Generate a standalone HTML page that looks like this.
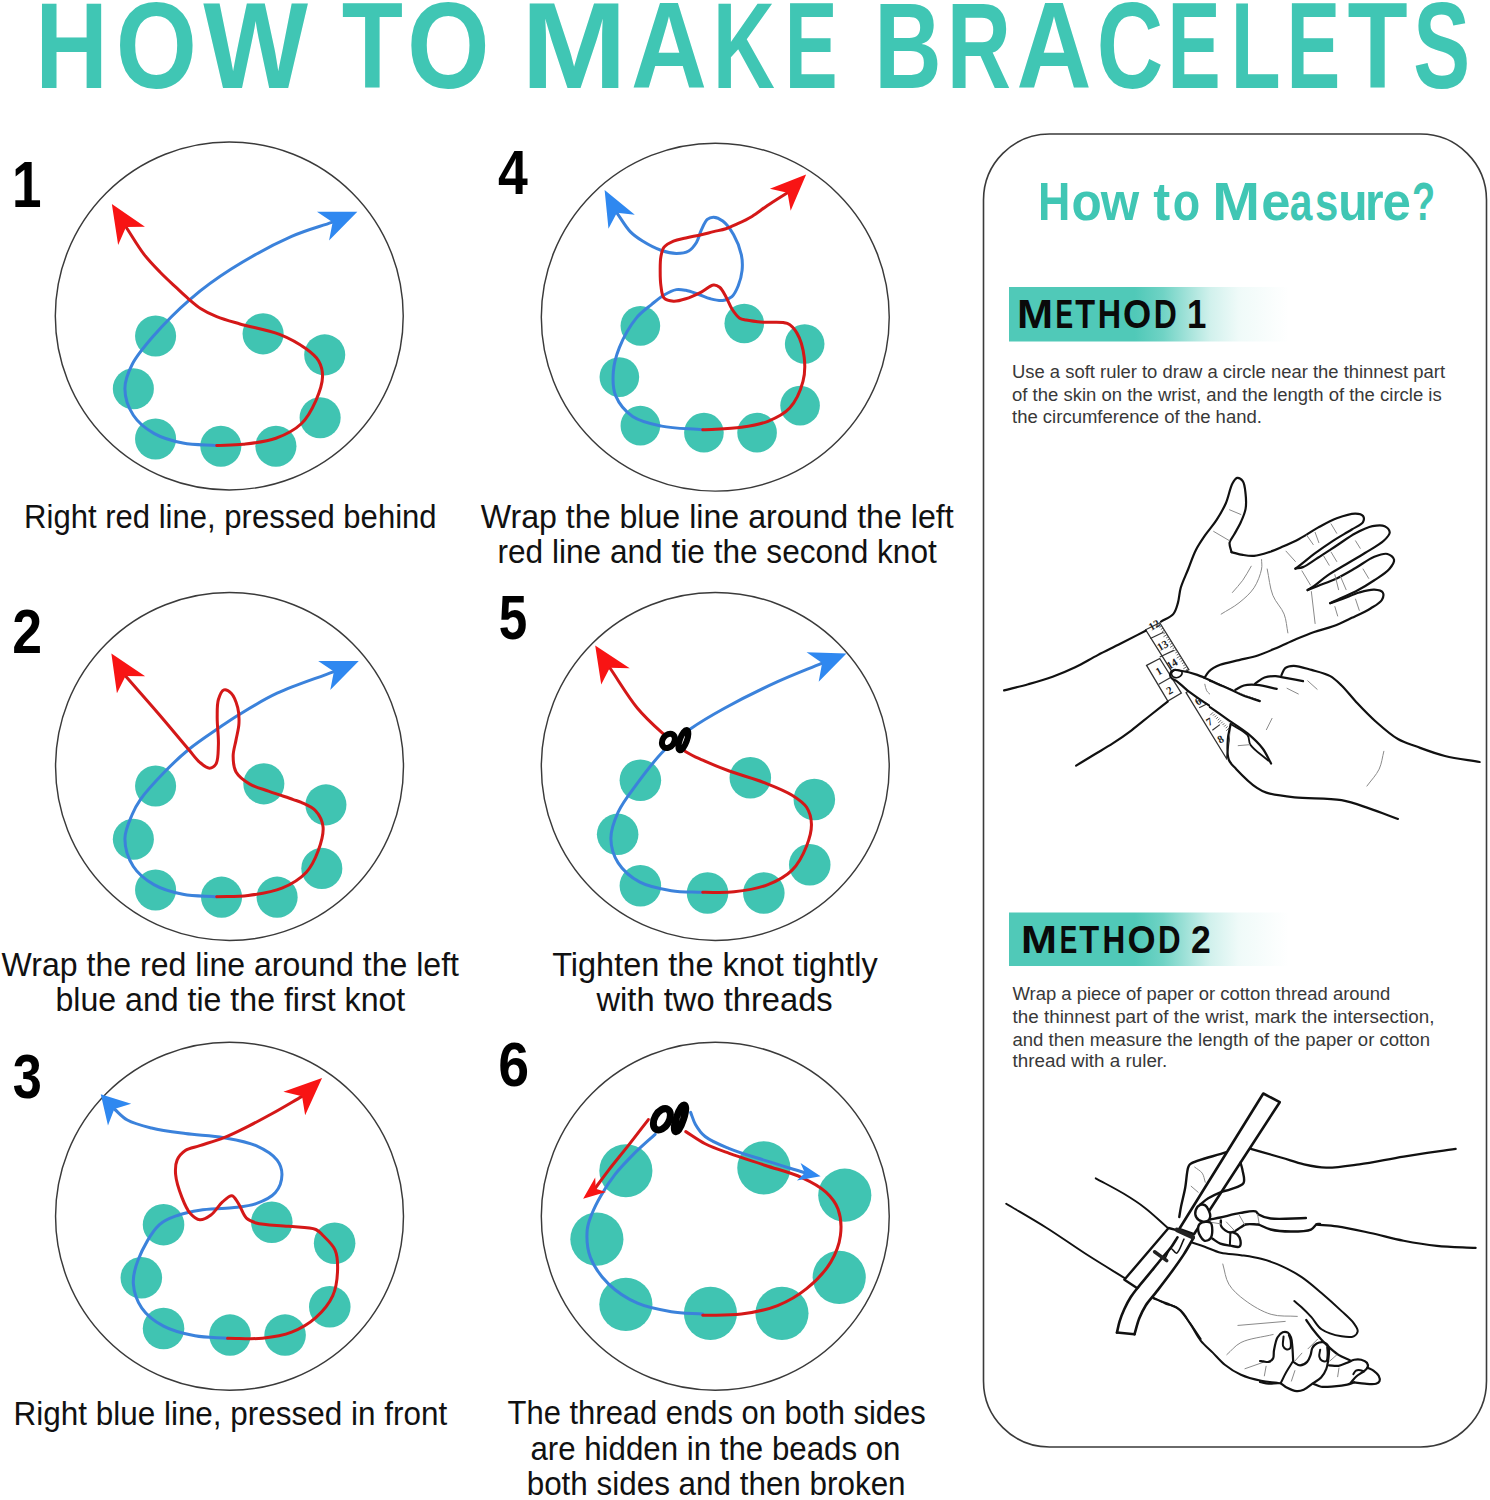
<!DOCTYPE html>
<html><head><meta charset="utf-8"><title>How to make bracelets</title>
<style>
html,body{margin:0;padding:0;background:#fff;}
body{width:1490px;height:1500px;overflow:hidden;}
svg{display:block;font-family:"Liberation Sans",sans-serif;}
</style></head><body>
<svg width="1490" height="1500" viewBox="0 0 1490 1500">
<defs>
<linearGradient id="g1" x1="1009" y1="0" x2="1289" y2="0" gradientUnits="userSpaceOnUse"><stop offset="0" stop-color="#50c9b8"/><stop offset="0.45" stop-color="#50c9b8"/><stop offset="0.55" stop-color="#50c9b8" stop-opacity="0.82"/><stop offset="0.64" stop-color="#50c9b8" stop-opacity="0.52"/><stop offset="0.72" stop-color="#50c9b8" stop-opacity="0.26"/><stop offset="0.82" stop-color="#50c9b8" stop-opacity="0.09"/><stop offset="1" stop-color="#50c9b8" stop-opacity="0"/></linearGradient>
<linearGradient id="g2" x1="1009" y1="0" x2="1289" y2="0" gradientUnits="userSpaceOnUse"><stop offset="0" stop-color="#50c9b8"/><stop offset="0.45" stop-color="#50c9b8"/><stop offset="0.55" stop-color="#50c9b8" stop-opacity="0.82"/><stop offset="0.64" stop-color="#50c9b8" stop-opacity="0.52"/><stop offset="0.72" stop-color="#50c9b8" stop-opacity="0.26"/><stop offset="0.82" stop-color="#50c9b8" stop-opacity="0.09"/><stop offset="1" stop-color="#50c9b8" stop-opacity="0"/></linearGradient>
</defs>
<text transform="translate(35.36,87.90) scale(1.0070,1.2210)" font-size="100" font-weight="bold" fill="#40c6b4">H</text>
<text transform="translate(115.82,87.90) scale(1.0434,1.2210)" font-size="100" font-weight="bold" fill="#40c6b4">O</text>
<text transform="translate(203.29,87.90) scale(1.1105,1.2210)" font-size="100" font-weight="bold" fill="#40c6b4">W</text>
<text transform="translate(341.87,87.90) scale(1.0019,1.2210)" font-size="100" font-weight="bold" fill="#40c6b4">T</text>
<text transform="translate(407.04,87.90) scale(1.0621,1.2210)" font-size="100" font-weight="bold" fill="#40c6b4">O</text>
<text transform="translate(521.22,87.90) scale(1.2671,1.2210)" font-size="100" font-weight="bold" fill="#40c6b4">M</text>
<text transform="translate(630.98,87.90) scale(1.0523,1.2210)" font-size="100" font-weight="bold" fill="#40c6b4">A</text>
<text transform="translate(712.64,87.90) scale(0.8607,1.2210)" font-size="100" font-weight="bold" fill="#40c6b4">K</text>
<text transform="translate(784.71,87.90) scale(0.7914,1.2210)" font-size="100" font-weight="bold" fill="#40c6b4">E</text>
<text transform="translate(874.16,87.90) scale(0.9330,1.2210)" font-size="100" font-weight="bold" fill="#40c6b4">B</text>
<text transform="translate(946.85,87.90) scale(0.8901,1.2210)" font-size="100" font-weight="bold" fill="#40c6b4">R</text>
<text transform="translate(1016.41,87.90) scale(1.0389,1.2210)" font-size="100" font-weight="bold" fill="#40c6b4">A</text>
<text transform="translate(1096.72,87.90) scale(0.9208,1.2210)" font-size="100" font-weight="bold" fill="#40c6b4">C</text>
<text transform="translate(1167.57,87.90) scale(0.7967,1.2210)" font-size="100" font-weight="bold" fill="#40c6b4">E</text>
<text transform="translate(1230.74,87.90) scale(0.8165,1.2210)" font-size="100" font-weight="bold" fill="#40c6b4">L</text>
<text transform="translate(1286.61,87.90) scale(0.8057,1.2210)" font-size="100" font-weight="bold" fill="#40c6b4">E</text>
<text transform="translate(1347.49,87.90) scale(0.9849,1.2210)" font-size="100" font-weight="bold" fill="#40c6b4">T</text>
<text transform="translate(1413.14,87.90) scale(0.8529,1.2210)" font-size="100" font-weight="bold" fill="#40c6b4">S</text>
<text transform="translate(12.06,207.20) scale(0.5308,0.6395)" font-size="100" font-weight="bold" fill="#000">1</text>
<text transform="translate(497.99,194.20) scale(0.5358,0.6236)" font-size="100" font-weight="bold" fill="#000">4</text>
<text transform="translate(12.34,653.40) scale(0.5359,0.6316)" font-size="100" font-weight="bold" fill="#000">2</text>
<text transform="translate(498.82,639.28) scale(0.5125,0.6306)" font-size="100" font-weight="bold" fill="#000">5</text>
<text transform="translate(12.80,1097.80) scale(0.5231,0.6244)" font-size="100" font-weight="bold" fill="#000">3</text>
<text transform="translate(498.37,1085.78) scale(0.5544,0.6299)" font-size="100" font-weight="bold" fill="#000">6</text>
<text x="24.1" y="528.0" font-size="32.5" font-weight="normal" fill="#111" textLength="412.5" lengthAdjust="spacingAndGlyphs">Right red line, pressed behind</text>
<text x="480.7" y="527.6" font-size="32.5" font-weight="normal" fill="#111" textLength="473.0" lengthAdjust="spacingAndGlyphs">Wrap the blue line around the left</text>
<text x="497.5" y="563.2" font-size="32.5" font-weight="normal" fill="#111" textLength="439.3" lengthAdjust="spacingAndGlyphs">red line and tie the second knot</text>
<text x="1.6" y="976.0" font-size="32.5" font-weight="normal" fill="#111" textLength="457.4" lengthAdjust="spacingAndGlyphs">Wrap the red line around the left</text>
<text x="55.4" y="1010.9" font-size="32.5" font-weight="normal" fill="#111" textLength="349.9" lengthAdjust="spacingAndGlyphs">blue and tie the first knot</text>
<text x="552.2" y="976.2" font-size="32.5" font-weight="normal" fill="#111" textLength="325.5" lengthAdjust="spacingAndGlyphs">Tighten the knot tightly</text>
<text x="596.5" y="1011.1" font-size="32.5" font-weight="normal" fill="#111" textLength="236.2" lengthAdjust="spacingAndGlyphs">with two threads</text>
<text x="13.5" y="1424.8" font-size="32.5" font-weight="normal" fill="#111" textLength="433.7" lengthAdjust="spacingAndGlyphs">Right blue line, pressed in front</text>
<text x="507.6" y="1424.2" font-size="32.5" font-weight="normal" fill="#111" textLength="418.1" lengthAdjust="spacingAndGlyphs">The thread ends on both sides</text>
<text x="530.4" y="1459.8" font-size="32.5" font-weight="normal" fill="#111" textLength="370.1" lengthAdjust="spacingAndGlyphs">are hidden in the beads on</text>
<text x="526.7" y="1494.7" font-size="32.5" font-weight="normal" fill="#111" textLength="378.9" lengthAdjust="spacingAndGlyphs">both sides and then broken</text>
<g transform="translate(50,135) scale(0.241611)">
<circle cx="742" cy="749" r="720" fill="none" stroke="#3a3a3a" stroke-width="6"/>
<circle cx="437" cy="832" r="85" fill="#40c4b2"/>
<circle cx="882" cy="823" r="85" fill="#40c4b2"/>
<circle cx="1137" cy="910" r="85" fill="#40c4b2"/>
<circle cx="345" cy="1050" r="85" fill="#40c4b2"/>
<circle cx="1118" cy="1170" r="85" fill="#40c4b2"/>
<circle cx="437" cy="1258" r="85" fill="#40c4b2"/>
<circle cx="707" cy="1288" r="85" fill="#40c4b2"/>
<circle cx="935" cy="1288" r="85" fill="#40c4b2"/>
<path d="M690.00 1285.00 C643.33 1281.67 594.34 1283.83 550.00 1275.00 C507.91 1266.62 464.83 1255.05 430.00 1235.00 C397.03 1216.02 364.99 1190.64 345.00 1160.00 C324.83 1129.08 310.30 1085.84 310.00 1050.00 C309.72 1015.92 323.16 983.35 340.00 950.00 C360.18 910.02 394.50 870.93 430.00 830.00 C472.22 781.32 526.59 725.88 580.00 680.00 C633.27 634.24 686.32 595.33 750.00 555.00 C823.89 508.20 923.46 453.74 1000.00 420.00 C1060.88 393.16 1113.17 380.56 1169.76 360.84" fill="none" stroke="#3b82db" stroke-width="12.5" stroke-linecap="round" stroke-linejoin="round"/>
<path d="M690.00 1285.00 C726.67 1283.33 761.62 1284.41 800.00 1280.00 C842.86 1275.08 893.98 1270.03 935.00 1255.00 C973.50 1240.90 1012.26 1221.54 1040.00 1195.00 C1066.74 1169.41 1085.25 1133.20 1100.00 1100.00 C1114.18 1068.08 1127.53 1029.81 1128.00 1000.00 C1128.38 976.06 1122.91 953.91 1112.00 935.00 C1100.68 915.37 1081.86 901.02 1060.00 885.00 C1031.19 863.88 991.44 841.45 950.00 825.00 C901.79 805.86 833.26 795.57 786.00 782.00 C749.60 771.55 718.70 763.67 690.00 752.00 C665.20 741.91 643.11 730.95 623.00 718.00 C604.44 706.04 589.43 692.10 573.00 678.00 C556.08 663.48 540.80 648.69 523.00 632.00 C502.21 612.51 477.85 590.45 456.00 568.00 C433.48 544.86 411.67 522.99 390.00 495.00 C364.44 461.98 339.79 418.79 314.68 380.68" fill="none" stroke="#d41818" stroke-width="12.5" stroke-linecap="round" stroke-linejoin="round"/>
<polygon points="256.0,286.0 393.0,380.0 314.7,380.7 282.0,455.0" fill="#f81414"/>
<polygon points="1272.0,318.0 1105.0,318.0 1169.8,360.8 1155.0,437.0" fill="#2f88f0"/>
</g>
<g transform="translate(536,135) scale(0.241611)">
<circle cx="742" cy="754" r="720" fill="none" stroke="#3a3a3a" stroke-width="6"/>
<circle cx="432" cy="790" r="82" fill="#40c4b2"/>
<circle cx="862" cy="780" r="82" fill="#40c4b2"/>
<circle cx="1112" cy="865" r="82" fill="#40c4b2"/>
<circle cx="345" cy="1002" r="82" fill="#40c4b2"/>
<circle cx="1093" cy="1120" r="82" fill="#40c4b2"/>
<circle cx="432" cy="1203" r="82" fill="#40c4b2"/>
<circle cx="695" cy="1232" r="82" fill="#40c4b2"/>
<circle cx="915" cy="1232" r="82" fill="#40c4b2"/>
<path d="M690.00 1220.00 C633.33 1215.00 571.18 1215.64 520.00 1205.00 C475.94 1195.84 432.24 1187.15 400.00 1165.00 C369.92 1144.34 343.18 1111.69 330.00 1080.00 C317.40 1049.73 317.59 1013.12 320.00 980.00 C322.44 946.45 331.30 914.02 345.00 880.00 C361.01 840.26 389.42 789.50 415.00 758.00 C434.97 733.41 458.57 717.87 479.00 701.00 C496.68 686.40 512.34 672.35 530.00 662.00 C546.43 652.37 564.82 642.70 581.00 640.00 C594.58 637.74 606.29 640.36 620.00 643.00 C636.03 646.09 654.08 653.20 671.00 659.00 C688.08 664.86 704.76 673.66 722.00 678.00 C738.77 682.22 757.50 687.04 773.00 685.00 C786.87 683.17 800.66 678.11 811.00 669.00 C822.60 658.77 830.18 640.85 837.00 624.00 C844.68 605.02 850.86 581.49 853.00 560.00 C855.11 538.82 854.70 518.32 850.00 496.00 C844.47 469.70 831.78 437.18 818.00 413.00 C805.55 391.15 789.03 368.20 773.00 356.00 C760.92 346.81 746.53 340.38 735.00 340.00 C725.58 339.69 716.58 342.64 709.00 349.00 C698.63 357.71 691.41 378.27 684.00 394.00 C676.35 410.23 673.15 430.31 664.00 445.00 C655.48 458.67 645.39 472.48 632.00 480.00 C617.98 487.87 598.96 490.06 581.00 490.00 C560.87 489.93 538.74 484.50 517.00 477.00 C492.20 468.45 463.24 452.89 441.00 439.00 C421.67 426.93 406.15 416.72 390.00 400.00 C370.32 379.63 353.17 348.21 334.76 322.32" fill="none" stroke="#3b82db" stroke-width="12.5" stroke-linecap="round" stroke-linejoin="round"/>
<path d="M690.00 1220.00 C743.33 1216.67 801.90 1216.92 850.00 1210.00 C890.35 1204.19 926.20 1198.74 960.00 1185.00 C992.68 1171.72 1026.26 1155.85 1050.00 1130.00 C1075.63 1102.09 1095.33 1056.81 1105.00 1020.00 C1113.72 986.78 1114.00 952.99 1110.00 920.00 C1105.91 886.31 1094.67 844.57 1080.00 820.00 C1069.20 801.92 1058.36 788.15 1040.00 780.00 C1015.57 769.16 970.32 777.70 940.00 775.00 C914.54 772.73 887.77 769.75 870.00 766.00 C858.78 763.63 851.58 763.62 843.00 758.00 C831.60 750.54 820.28 734.23 811.00 720.00 C801.08 704.79 794.97 684.59 786.00 669.00 C777.86 654.84 770.04 637.86 760.00 630.00 C752.44 624.08 744.58 620.18 735.00 621.00 C720.76 622.22 702.22 640.87 684.00 650.00 C664.12 659.97 640.46 671.60 620.00 678.00 C602.35 683.52 584.74 689.01 569.00 688.00 C555.00 687.10 538.70 684.35 530.00 675.00 C520.16 664.42 519.70 642.11 517.00 624.00 C514.02 604.02 513.94 580.71 514.00 560.00 C514.06 540.45 513.78 520.01 517.00 503.00 C519.73 488.57 521.83 474.50 530.00 464.00 C538.67 452.85 554.57 445.27 569.00 439.00 C584.38 432.32 601.98 430.12 620.00 426.00 C640.07 421.41 663.93 417.59 684.00 413.00 C702.02 408.88 717.98 404.17 735.00 400.00 C751.98 395.84 769.75 393.30 786.00 388.00 C801.69 382.88 814.88 376.48 831.00 369.00 C850.38 360.00 873.35 349.42 894.00 337.00 C915.72 323.94 935.11 307.37 958.00 292.00 C983.69 274.76 1013.31 256.59 1040.96 238.88" fill="none" stroke="#d41818" stroke-width="12.5" stroke-linecap="round" stroke-linejoin="round"/>
<polygon points="1118.0,164.0 968.0,222.0 1041.0,238.9 1054.0,314.0" fill="#f81414"/>
<polygon points="284.0,228.0 409.0,330.0 334.8,322.3 300.0,388.0" fill="#2f88f0"/>
</g>
<g transform="translate(50,585) scale(0.241611)">
<circle cx="743" cy="751" r="720" fill="none" stroke="#3a3a3a" stroke-width="6"/>
<circle cx="437" cy="832" r="85" fill="#40c4b2"/>
<circle cx="885" cy="823" r="85" fill="#40c4b2"/>
<circle cx="1142" cy="910" r="85" fill="#40c4b2"/>
<circle cx="345" cy="1052" r="85" fill="#40c4b2"/>
<circle cx="1125" cy="1173" r="85" fill="#40c4b2"/>
<circle cx="437" cy="1262" r="85" fill="#40c4b2"/>
<circle cx="710" cy="1292" r="85" fill="#40c4b2"/>
<circle cx="940" cy="1292" r="85" fill="#40c4b2"/>
<path d="M690.00 1290.00 C643.33 1286.67 594.34 1288.83 550.00 1280.00 C507.91 1271.62 464.83 1260.05 430.00 1240.00 C397.03 1221.02 364.96 1196.02 345.00 1165.00 C324.45 1133.05 310.07 1087.01 310.00 1050.00 C309.93 1015.51 327.93 978.82 340.00 950.00 C349.93 926.28 358.03 910.81 374.00 888.00 C397.39 854.60 439.75 809.26 474.00 774.00 C506.51 740.54 537.71 710.63 574.00 681.00 C612.65 649.45 662.55 616.77 700.00 591.00 C729.48 570.71 748.34 557.36 780.00 538.00 C823.79 511.23 880.41 475.96 940.00 448.00 C1009.77 415.27 1096.69 388.13 1175.04 358.20" fill="none" stroke="#3b82db" stroke-width="12.5" stroke-linecap="round" stroke-linejoin="round"/>
<path d="M690.00 1290.00 C733.33 1288.33 776.11 1290.51 820.00 1285.00 C866.05 1279.22 918.64 1272.18 960.00 1255.00 C997.75 1239.32 1034.65 1217.17 1060.00 1190.00 C1083.56 1164.75 1098.33 1131.75 1110.00 1100.00 C1121.62 1068.40 1133.45 1029.27 1130.00 1000.00 C1127.11 975.48 1115.19 951.72 1100.00 935.00 C1085.04 918.53 1057.35 908.14 1040.00 900.00 C1027.66 894.22 1021.01 892.93 1007.00 888.00 C982.71 879.45 938.39 865.22 907.00 854.00 C878.76 843.91 850.32 837.96 827.00 824.00 C805.03 810.85 781.40 794.13 770.00 774.00 C759.28 755.06 758.03 730.09 758.00 708.00 C757.97 685.75 766.00 663.33 770.00 641.00 C774.00 618.67 780.86 596.32 782.00 574.00 C783.12 551.99 782.35 529.03 777.00 508.00 C771.66 487.03 761.98 460.15 750.00 448.00 C741.50 439.38 728.39 431.35 720.00 434.00 C710.09 437.13 701.87 457.97 697.00 474.00 C690.83 494.33 692.32 520.72 692.00 548.00 C691.61 581.69 698.38 626.63 697.00 661.00 C695.84 690.02 697.07 725.17 687.00 741.00 C680.67 750.96 669.92 757.89 660.00 758.00 C648.01 758.13 632.96 744.88 620.00 734.00 C604.10 720.66 592.96 703.16 574.00 681.00 C542.61 644.32 492.61 583.63 450.00 534.00 C405.61 482.31 358.45 429.25 312.68 376.88" fill="none" stroke="#d41818" stroke-width="12.5" stroke-linecap="round" stroke-linejoin="round"/>
<polygon points="254.0,284.0 394.0,378.0 312.7,376.9 277.0,448.0" fill="#f81414"/>
<polygon points="1278.0,315.0 1110.0,315.0 1175.0,358.2 1160.0,435.0" fill="#2f88f0"/>
</g>
<g transform="translate(536,585) scale(0.241611)">
<circle cx="742" cy="751" r="720" fill="none" stroke="#3a3a3a" stroke-width="6"/>
<circle cx="432" cy="808" r="86" fill="#40c4b2"/>
<circle cx="887" cy="798" r="86" fill="#40c4b2"/>
<circle cx="1152" cy="888" r="86" fill="#40c4b2"/>
<circle cx="338" cy="1032" r="86" fill="#40c4b2"/>
<circle cx="1133" cy="1158" r="86" fill="#40c4b2"/>
<circle cx="432" cy="1245" r="86" fill="#40c4b2"/>
<circle cx="710" cy="1275" r="86" fill="#40c4b2"/>
<circle cx="943" cy="1275" r="86" fill="#40c4b2"/>
<path d="M690.00 1272.00 C646.67 1269.67 602.98 1271.86 560.00 1265.00 C516.30 1258.02 467.37 1250.16 430.00 1230.00 C394.66 1210.93 360.03 1181.40 340.00 1150.00 C321.35 1120.77 310.43 1084.19 310.00 1050.00 C309.55 1014.27 323.55 976.15 340.00 940.00 C358.50 899.34 390.14 860.45 420.00 820.00 C452.81 775.55 491.27 723.80 530.00 685.00 C564.99 649.94 600.05 623.26 640.00 595.00 C682.88 564.66 727.41 539.05 780.00 510.00 C844.44 474.40 929.38 432.31 1000.00 400.00 C1063.60 370.90 1122.80 348.88 1184.20 323.32" fill="none" stroke="#3b82db" stroke-width="12.5" stroke-linecap="round" stroke-linejoin="round"/>
<path d="M690.00 1272.00 C733.33 1271.33 776.11 1274.99 820.00 1270.00 C866.06 1264.76 918.45 1256.39 960.00 1240.00 C997.50 1225.21 1033.33 1206.67 1060.00 1180.00 C1086.67 1153.33 1106.62 1113.55 1120.00 1080.00 C1131.90 1050.17 1140.84 1018.02 1140.00 990.00 C1139.26 965.10 1132.88 939.78 1120.00 920.00 C1106.66 899.52 1084.22 885.21 1060.00 870.00 C1029.87 851.08 989.95 835.69 950.00 820.00 C904.30 802.05 845.87 787.01 800.00 770.00 C760.23 755.26 722.30 739.66 690.00 725.00 C663.79 713.11 644.53 705.69 620.00 690.00 C588.62 669.92 552.55 639.13 520.00 610.00 C485.80 579.39 452.67 549.37 420.00 510.00 C380.87 462.84 343.65 398.35 305.48 342.52" fill="none" stroke="#d41818" stroke-width="12.5" stroke-linecap="round" stroke-linejoin="round"/>
<polygon points="245.0,250.0 388.0,345.0 305.5,342.5 270.0,412.0" fill="#f81414"/>
<polygon points="1285.0,283.0 1120.0,278.0 1184.2,323.3 1170.0,400.0" fill="#2f88f0"/>
<g fill="#fff" stroke="#000" stroke-width="25"><ellipse cx="548" cy="645" rx="24" ry="32" transform="rotate(35 548 645)"/><ellipse cx="610" cy="642" rx="14.5" ry="44.5" transform="rotate(20 610 642)"/></g>
</g>
<g transform="translate(50,1035) scale(0.241611)">
<circle cx="743" cy="750" r="720" fill="none" stroke="#3a3a3a" stroke-width="6"/>
<circle cx="470" cy="785" r="86" fill="#40c4b2"/>
<circle cx="918" cy="775" r="86" fill="#40c4b2"/>
<circle cx="1178" cy="862" r="86" fill="#40c4b2"/>
<circle cx="378" cy="1005" r="86" fill="#40c4b2"/>
<circle cx="1158" cy="1125" r="86" fill="#40c4b2"/>
<circle cx="470" cy="1215" r="86" fill="#40c4b2"/>
<circle cx="745" cy="1242" r="86" fill="#40c4b2"/>
<circle cx="973" cy="1242" r="86" fill="#40c4b2"/>
<path d="M735.00 1255.00 C690.00 1251.67 644.12 1253.31 600.00 1245.00 C555.78 1236.67 507.62 1225.39 470.00 1205.00 C435.08 1186.08 400.91 1160.15 380.00 1130.00 C360.11 1101.33 347.35 1063.66 345.00 1030.00 C342.70 996.98 351.31 965.14 365.00 930.00 C382.65 884.68 419.39 815.97 453.00 785.00 C477.41 762.51 505.15 755.00 533.00 745.00 C560.82 735.01 587.73 729.89 620.00 725.00 C659.45 719.02 711.93 720.02 753.00 715.00 C788.82 710.62 822.42 708.99 853.00 698.00 C882.17 687.51 915.13 673.24 933.00 652.00 C949.51 632.38 959.67 601.43 960.00 578.00 C960.30 557.01 953.54 536.02 940.00 518.00 C922.49 494.70 886.64 473.17 853.00 458.00 C814.69 440.73 766.68 433.23 720.00 425.00 C669.42 416.08 611.46 414.95 560.00 408.00 C511.68 401.47 462.38 395.41 420.00 385.00 C383.49 376.03 347.05 367.20 320.00 352.00 C297.84 339.55 284.11 321.47 266.16 306.20" fill="none" stroke="#3b82db" stroke-width="12.5" stroke-linecap="round" stroke-linejoin="round"/>
<path d="M735.00 1255.00 C783.33 1255.00 834.18 1259.72 880.00 1255.00 C922.13 1250.66 962.95 1244.49 1000.00 1230.00 C1036.14 1215.86 1071.56 1195.20 1100.00 1170.00 C1128.12 1145.08 1155.04 1112.70 1170.00 1080.00 C1184.15 1049.08 1188.59 1012.56 1190.00 980.00 C1191.33 949.32 1190.91 915.61 1180.00 890.00 C1169.87 866.21 1145.19 845.19 1130.00 830.00 C1119.26 819.26 1114.48 811.19 1100.00 805.00 C1075.17 794.38 1025.47 796.33 986.00 792.00 C943.38 787.33 883.85 787.01 853.00 778.00 C835.16 772.79 824.35 768.91 813.00 758.00 C798.96 744.50 791.23 714.61 780.00 698.00 C771.14 684.89 763.71 666.57 753.00 665.00 C741.60 663.33 726.15 680.48 713.00 692.00 C697.07 705.96 683.05 732.62 666.00 745.00 C651.65 755.41 634.45 766.33 620.00 765.00 C605.82 763.69 591.46 750.90 580.00 738.00 C565.79 722.00 555.58 696.49 546.00 672.00 C535.02 643.93 522.39 606.03 520.00 578.00 C518.12 555.96 518.75 535.05 526.00 518.00 C532.76 502.09 545.38 487.87 560.00 478.00 C576.04 467.16 597.45 465.48 620.00 458.00 C649.09 448.35 687.06 438.12 720.00 425.00 C753.74 411.56 786.86 394.56 820.00 378.00 C853.54 361.24 885.11 344.30 920.00 325.00 C959.11 303.37 1002.13 277.64 1043.20 253.96" fill="none" stroke="#d41818" stroke-width="12.5" stroke-linecap="round" stroke-linejoin="round"/>
<polygon points="1126.0,178.0 966.0,235.0 1043.2,254.0 1056.0,332.0" fill="#f81414"/>
<polygon points="210.0,245.0 336.0,285.0 266.2,306.2 240.0,375.0" fill="#2f88f0"/>
</g>
<g transform="translate(536,1035) scale(0.241611)">
<circle cx="742" cy="750" r="720" fill="none" stroke="#3a3a3a" stroke-width="6"/>
<circle cx="372" cy="562" r="110" fill="#40c4b2"/>
<circle cx="943" cy="550" r="110" fill="#40c4b2"/>
<circle cx="1278" cy="663" r="110" fill="#40c4b2"/>
<circle cx="252" cy="845" r="110" fill="#40c4b2"/>
<circle cx="1255" cy="1003" r="110" fill="#40c4b2"/>
<circle cx="372" cy="1115" r="110" fill="#40c4b2"/>
<circle cx="722" cy="1152" r="110" fill="#40c4b2"/>
<circle cx="1018" cy="1152" r="110" fill="#40c4b2"/>
<path d="M690.00 1155.00 C646.67 1151.67 603.83 1152.11 560.00 1145.00 C513.89 1137.52 463.34 1129.17 420.00 1110.00 C376.67 1090.83 332.87 1062.53 300.00 1030.00 C268.42 998.75 239.44 958.79 225.00 920.00 C211.65 884.15 209.31 839.40 212.00 807.00 C214.09 781.82 222.36 763.31 231.00 741.00 C240.53 716.38 253.21 691.65 268.00 666.00 C284.82 636.83 305.68 604.49 328.00 576.00 C350.62 547.12 376.25 520.86 403.00 494.00 C431.07 465.81 463.00 438.67 493.00 411.00" fill="none" stroke="#3b82db" stroke-width="12.5" stroke-linecap="round" stroke-linejoin="round"/>
<path d="M640.00 320.00 C646.67 336.67 650.67 353.99 660.00 370.00 C670.17 387.45 681.54 405.08 700.00 420.00 C724.39 439.72 762.69 454.54 800.00 470.00 C844.37 488.38 898.07 503.34 950.00 520.00 C1005.68 537.87 1065.80 555.73 1123.70 573.60" fill="none" stroke="#3b82db" stroke-width="12.5" stroke-linecap="round" stroke-linejoin="round"/>
<path d="M690.00 1160.00 C743.33 1158.33 797.86 1161.83 850.00 1155.00 C901.15 1148.30 954.04 1138.28 1000.00 1120.00 C1043.65 1102.64 1083.82 1079.29 1120.00 1050.00 C1157.42 1019.70 1196.37 979.13 1220.00 940.00 C1240.97 905.28 1255.17 867.21 1260.00 830.00 C1264.69 793.85 1261.59 751.23 1250.00 720.00 C1239.77 692.44 1222.19 670.49 1200.00 650.00 C1174.16 626.14 1137.77 607.37 1100.00 590.00 C1056.02 569.77 1000.00 556.67 950.00 540.00 C900.00 523.33 844.73 506.39 800.00 490.00 C763.08 476.48 730.83 465.64 700.00 450.00 C671.14 435.36 646.67 416.67 620.00 400.00" fill="none" stroke="#d41818" stroke-width="12.5" stroke-linecap="round" stroke-linejoin="round"/>
<path d="M465.00 350.00 C436.67 386.67 408.05 424.32 380.00 460.00 C353.07 494.24 324.63 527.97 300.00 560.00 C277.86 588.79 259.00 615.47 238.50 643.20" fill="none" stroke="#d41818" stroke-width="12.5" stroke-linecap="round" stroke-linejoin="round"/>
<polygon points="195.0,678.0 245.0,590.0 247.2,636.2 290.0,650.0" fill="#f81414"/>
<polygon points="1178.0,585.0 1095.0,530.0 1112.8,571.3 1080.0,602.0" fill="#2f88f0"/>
<g fill="#fff" stroke="#000" stroke-width="29"><ellipse cx="521" cy="349" rx="30" ry="48" transform="rotate(30 521 349)"/><ellipse cx="596" cy="345" rx="15" ry="58" transform="rotate(18 596 345)"/></g>
</g>
<rect x="983.5" y="134" width="503" height="1313" rx="66" ry="66" fill="#fff" stroke="#3a3a3a" stroke-width="1.6"/>
<text transform="translate(1038.01,220.10) scale(0.4474,0.5305)" font-size="100" font-weight="bold" fill="#40c6b4">H</text>
<text transform="translate(1071.46,220.10) scale(0.4956,0.5305)" font-size="100" font-weight="bold" fill="#40c6b4">o</text>
<text transform="translate(1100.64,220.10) scale(0.4944,0.5305)" font-size="100" font-weight="bold" fill="#40c6b4">w</text>
<text transform="translate(1153.18,220.10) scale(0.5088,0.5305)" font-size="100" font-weight="bold" fill="#40c6b4">t</text>
<text transform="translate(1172.75,220.10) scale(0.4486,0.5305)" font-size="100" font-weight="bold" fill="#40c6b4">o</text>
<text transform="translate(1212.36,220.10) scale(0.5735,0.5305)" font-size="100" font-weight="bold" fill="#40c6b4">M</text>
<text transform="translate(1261.25,220.10) scale(0.5260,0.5305)" font-size="100" font-weight="bold" fill="#40c6b4">e</text>
<text transform="translate(1289.81,220.10) scale(0.4070,0.5305)" font-size="100" font-weight="bold" fill="#40c6b4">a</text>
<text transform="translate(1315.03,220.10) scale(0.4188,0.5305)" font-size="100" font-weight="bold" fill="#40c6b4">s</text>
<text transform="translate(1338.22,220.10) scale(0.4804,0.5305)" font-size="100" font-weight="bold" fill="#40c6b4">u</text>
<text transform="translate(1365.05,220.10) scale(0.4771,0.5305)" font-size="100" font-weight="bold" fill="#40c6b4">r</text>
<text transform="translate(1382.40,220.10) scale(0.5115,0.5305)" font-size="100" font-weight="bold" fill="#40c6b4">e</text>
<text transform="translate(1412.06,220.10) scale(0.3785,0.5305)" font-size="100" font-weight="bold" fill="#40c6b4">?</text>
<rect x="1009" y="287" width="280" height="54.5" fill="url(#g1)"/>
<text transform="translate(1017.10,328.20) scale(0.4333,0.4041)" font-size="100" font-weight="bold" fill="#0a0a0a">M</text>
<text transform="translate(1055.54,328.20) scale(0.2638,0.4041)" font-size="100" font-weight="bold" fill="#0a0a0a">E</text>
<text transform="translate(1075.14,328.20) scale(0.3244,0.4041)" font-size="100" font-weight="bold" fill="#0a0a0a">T</text>
<text transform="translate(1097.84,328.20) scale(0.3232,0.4041)" font-size="100" font-weight="bold" fill="#0a0a0a">H</text>
<text transform="translate(1123.11,328.20) scale(0.3627,0.4041)" font-size="100" font-weight="bold" fill="#0a0a0a">O</text>
<text transform="translate(1153.86,328.20) scale(0.3196,0.4041)" font-size="100" font-weight="bold" fill="#0a0a0a">D</text>
<text transform="translate(1186.91,328.20) scale(0.3481,0.4041)" font-size="100" font-weight="bold" fill="#0a0a0a">1</text>
<rect x="1009" y="912.5" width="280" height="53.5" fill="url(#g2)"/>
<text transform="translate(1020.91,953.30) scale(0.4319,0.3954)" font-size="100" font-weight="bold" fill="#0a0a0a">M</text>
<text transform="translate(1059.65,953.30) scale(0.2620,0.3954)" font-size="100" font-weight="bold" fill="#0a0a0a">E</text>
<text transform="translate(1079.13,953.30) scale(0.3260,0.3954)" font-size="100" font-weight="bold" fill="#0a0a0a">T</text>
<text transform="translate(1102.59,953.30) scale(0.3147,0.3954)" font-size="100" font-weight="bold" fill="#0a0a0a">H</text>
<text transform="translate(1127.42,953.30) scale(0.3612,0.3954)" font-size="100" font-weight="bold" fill="#0a0a0a">O</text>
<text transform="translate(1157.91,953.30) scale(0.3131,0.3954)" font-size="100" font-weight="bold" fill="#0a0a0a">D</text>
<text transform="translate(1191.07,953.30) scale(0.3552,0.3954)" font-size="100" font-weight="bold" fill="#0a0a0a">2</text>
<text x="1012.0" y="378.2" font-size="17.5" font-weight="normal" fill="#383838" textLength="433.0" lengthAdjust="spacingAndGlyphs">Use a soft ruler to draw a circle near the thinnest part</text>
<text x="1012.0" y="400.6" font-size="17.5" font-weight="normal" fill="#383838" textLength="429.7" lengthAdjust="spacingAndGlyphs">of the skin on the wrist, and the length of the circle is</text>
<text x="1012.0" y="422.8" font-size="17.5" font-weight="normal" fill="#383838" textLength="249.9" lengthAdjust="spacingAndGlyphs">the circumference of the hand.</text>
<text x="1012.5" y="1000.0" font-size="17.5" font-weight="normal" fill="#383838" textLength="377.8" lengthAdjust="spacingAndGlyphs">Wrap a piece of paper or cotton thread around</text>
<text x="1012.5" y="1023.0" font-size="17.5" font-weight="normal" fill="#383838" textLength="422.0" lengthAdjust="spacingAndGlyphs">the thinnest part of the wrist, mark the intersection,</text>
<text x="1012.5" y="1045.5" font-size="17.5" font-weight="normal" fill="#383838" textLength="417.5" lengthAdjust="spacingAndGlyphs">and then measure the length of the paper or cotton</text>
<text x="1012.5" y="1067.0" font-size="17.5" font-weight="normal" fill="#383838" textLength="154.8" lengthAdjust="spacingAndGlyphs">thread with a ruler.</text>
<g transform="translate(1130,460) scale(0.187935)">
<path d="M165.00 860.00 C186.67 846.67 214.91 837.67 230.00 820.00 C243.93 803.69 248.49 781.81 255.00 760.00 C262.28 735.60 261.93 707.74 270.00 680.00 C279.28 648.09 296.67 613.33 310.00 580.00 C323.33 546.67 334.36 510.83 350.00 480.00 C364.64 451.14 381.97 426.29 400.00 400.00 C418.56 372.93 441.77 348.11 460.00 320.00 C478.49 291.48 495.99 261.84 510.00 230.00 C524.52 196.98 531.85 148.60 545.00 125.00 C552.81 110.98 560.48 96.74 570.00 95.00 C578.95 93.37 592.68 102.09 600.00 112.00 C610.41 126.09 612.41 156.27 615.00 180.00 C617.77 205.44 619.40 234.59 615.00 260.00 C610.76 284.50 600.02 307.46 590.00 330.00 C580.01 352.46 565.75 375.35 555.00 395.00 C546.03 411.41 532.48 424.12 530.00 440.00 C527.53 455.80 536.67 473.33 540.00 490.00" fill="none" stroke="#111" stroke-width="2.2" stroke-linecap="round" stroke-linejoin="round" vector-effect="non-scaling-stroke"/>
<path d="M540.00 490.00 C560.00 495.00 579.86 501.67 600.00 505.00 C619.87 508.29 638.72 511.73 660.00 510.00 C684.91 507.98 714.49 498.25 740.00 490.00 C764.39 482.11 785.36 472.67 810.00 462.00 C838.28 449.76 869.63 436.14 900.00 420.00 C932.90 402.51 966.31 378.50 1000.00 360.00 C1032.99 341.89 1065.96 322.59 1100.00 310.00 C1132.68 297.91 1174.27 284.11 1200.00 285.00 C1216.44 285.57 1233.79 289.45 1240.00 298.00 C1245.42 305.46 1245.33 320.05 1240.00 330.00 C1232.00 344.94 1202.73 355.61 1180.00 370.00 C1151.09 388.30 1112.96 408.61 1080.00 430.00 C1046.28 451.88 1008.80 478.43 980.00 500.00 C957.15 517.11 938.08 533.99 920.00 548.00 C905.42 559.30 893.33 568.00 880.00 578.00" fill="none" stroke="#111" stroke-width="2.2" stroke-linecap="round" stroke-linejoin="round" vector-effect="non-scaling-stroke"/>
<path d="M880.00 578.00 C893.33 575.33 905.00 575.96 920.00 570.00 C942.81 560.94 971.93 537.89 1000.00 520.00 C1031.56 499.88 1066.67 476.67 1100.00 455.00 C1133.33 433.33 1166.76 407.64 1200.00 390.00 C1230.08 374.04 1261.89 357.69 1290.00 352.00 C1312.93 347.36 1339.16 344.50 1355.00 352.00 C1367.83 358.08 1381.59 372.98 1382.00 385.00 C1382.46 398.68 1365.53 415.10 1350.00 430.00 C1327.17 451.89 1283.52 474.06 1250.00 495.00 C1216.85 515.71 1183.33 535.00 1150.00 555.00 C1116.67 575.00 1079.80 594.48 1050.00 615.00 C1023.97 632.93 999.64 656.17 980.00 670.00 C966.62 679.42 956.67 684.67 945.00 692.00" fill="none" stroke="#111" stroke-width="2.2" stroke-linecap="round" stroke-linejoin="round" vector-effect="non-scaling-stroke"/>
<path d="M945.00 692.00 C963.33 684.67 978.95 678.42 1000.00 670.00 C1028.39 658.64 1067.14 645.54 1100.00 630.00 C1133.83 614.00 1166.84 594.06 1200.00 575.00 C1233.52 555.74 1268.66 527.36 1300.00 515.00 C1324.56 505.31 1351.55 495.31 1370.00 500.00 C1384.81 503.76 1402.49 517.56 1405.00 530.00 C1407.77 543.70 1393.30 564.07 1380.00 580.00 C1362.21 601.31 1328.69 620.71 1300.00 640.00 C1269.02 660.83 1231.98 683.49 1200.00 700.00 C1172.32 714.28 1144.07 723.84 1120.00 735.00 C1099.84 744.35 1083.33 753.00 1065.00 762.00" fill="none" stroke="#111" stroke-width="2.2" stroke-linecap="round" stroke-linejoin="round" vector-effect="non-scaling-stroke"/>
<path d="M1065.00 762.00 C1086.67 754.67 1106.68 748.48 1130.00 740.00 C1157.67 729.94 1190.50 713.42 1220.00 705.00 C1247.09 697.27 1277.31 688.45 1300.00 690.00 C1317.32 691.18 1338.75 695.08 1345.00 705.00 C1350.77 714.15 1347.16 732.65 1340.00 745.00 C1330.23 761.84 1303.29 775.61 1280.00 790.00 C1251.57 807.57 1213.50 824.10 1180.00 840.00 C1146.83 855.75 1113.75 872.40 1080.00 885.00 C1047.07 897.29 1013.08 903.45 980.00 915.00 C946.40 926.73 913.18 940.90 880.00 955.00 C846.52 969.22 813.48 985.78 780.00 1000.00 C746.82 1014.10 713.71 1029.10 680.00 1040.00 C647.02 1050.66 613.33 1056.67 580.00 1065.00 C546.67 1073.33 508.41 1078.44 480.00 1090.00 C456.68 1099.49 435.37 1110.38 420.00 1125.00 C406.34 1138.00 400.00 1155.67 390.00 1171.00" fill="none" stroke="#111" stroke-width="2.2" stroke-linecap="round" stroke-linejoin="round" vector-effect="non-scaling-stroke"/>
<path d="M530.0 265.0 L590.0 290.0" fill="none" stroke="#8a8a8a" stroke-width="1" stroke-linecap="round" stroke-linejoin="round" vector-effect="non-scaling-stroke"/>
<path d="M445.0 380.0 L530.0 430.0" fill="none" stroke="#8a8a8a" stroke-width="1" stroke-linecap="round" stroke-linejoin="round" vector-effect="non-scaling-stroke"/>
<path d="M545.00 705.00 C563.33 683.33 583.42 663.16 600.00 640.00 C616.80 616.53 630.00 590.00 645.00 565.00" fill="none" stroke="#8a8a8a" stroke-width="1" stroke-linecap="round" stroke-linejoin="round" vector-effect="non-scaling-stroke"/>
<path d="M485.00 820.00 C516.67 800.00 550.87 783.28 580.00 760.00 C609.23 736.64 639.91 710.46 660.00 680.00 C679.60 650.28 694.60 608.06 700.00 580.00 C703.68 560.88 700.00 546.67 700.00 530.00" fill="none" stroke="#8a8a8a" stroke-width="1" stroke-linecap="round" stroke-linejoin="round" vector-effect="non-scaling-stroke"/>
<path d="M730.00 580.00 C740.00 626.67 743.61 678.45 760.00 720.00 C774.79 757.50 806.65 785.47 820.00 820.00 C832.48 852.29 833.33 886.67 840.00 920.00" fill="none" stroke="#8a8a8a" stroke-width="1" stroke-linecap="round" stroke-linejoin="round" vector-effect="non-scaling-stroke"/>
<path d="M940.0 400.0 L975.0 450.0" fill="none" stroke="#8a8a8a" stroke-width="1" stroke-linecap="round" stroke-linejoin="round" vector-effect="non-scaling-stroke"/>
<path d="M985.0 385.0 L1005.0 440.0" fill="none" stroke="#8a8a8a" stroke-width="1" stroke-linecap="round" stroke-linejoin="round" vector-effect="non-scaling-stroke"/>
<path d="M1070.0 340.0 L1100.0 390.0" fill="none" stroke="#8a8a8a" stroke-width="1" stroke-linecap="round" stroke-linejoin="round" vector-effect="non-scaling-stroke"/>
<path d="M1200.0 430.0 L1225.0 470.0" fill="none" stroke="#8a8a8a" stroke-width="1" stroke-linecap="round" stroke-linejoin="round" vector-effect="non-scaling-stroke"/>
<path d="M830.0 485.0 L880.0 540.0" fill="none" stroke="#8a8a8a" stroke-width="1" stroke-linecap="round" stroke-linejoin="round" vector-effect="non-scaling-stroke"/>
<path d="M915.0 590.0 L960.0 665.0" fill="none" stroke="#8a8a8a" stroke-width="1" stroke-linecap="round" stroke-linejoin="round" vector-effect="non-scaling-stroke"/>
<path d="M1030.0 510.0 L1060.0 560.0" fill="none" stroke="#8a8a8a" stroke-width="1" stroke-linecap="round" stroke-linejoin="round" vector-effect="non-scaling-stroke"/>
<path d="M1070.0 490.0 L1100.0 540.0" fill="none" stroke="#8a8a8a" stroke-width="1" stroke-linecap="round" stroke-linejoin="round" vector-effect="non-scaling-stroke"/>
<path d="M1090.0 610.0 L1110.0 690.0" fill="none" stroke="#8a8a8a" stroke-width="1" stroke-linecap="round" stroke-linejoin="round" vector-effect="non-scaling-stroke"/>
<path d="M1120.0 620.0 L1150.0 690.0" fill="none" stroke="#8a8a8a" stroke-width="1" stroke-linecap="round" stroke-linejoin="round" vector-effect="non-scaling-stroke"/>
<path d="M1240.0 580.0 L1270.0 630.0" fill="none" stroke="#8a8a8a" stroke-width="1" stroke-linecap="round" stroke-linejoin="round" vector-effect="non-scaling-stroke"/>
<path d="M965.0 700.0 L985.0 870.0" fill="none" stroke="#8a8a8a" stroke-width="1" stroke-linecap="round" stroke-linejoin="round" vector-effect="non-scaling-stroke"/>
<path d="M1090.0 780.0 L1105.0 830.0" fill="none" stroke="#8a8a8a" stroke-width="1" stroke-linecap="round" stroke-linejoin="round" vector-effect="non-scaling-stroke"/>
<path d="M1200.0 740.0 L1220.0 800.0" fill="none" stroke="#8a8a8a" stroke-width="1" stroke-linecap="round" stroke-linejoin="round" vector-effect="non-scaling-stroke"/>
</g>
<g transform="translate(1000,610) scale(0.187935)">
<polygon points="775,105 850,68 1005,318 930,352" fill="#fff" stroke="#333" stroke-width="1.3" vector-effect="non-scaling-stroke"/>
<polygon points="780,295 850,258 965,442 893,485" fill="#fff" stroke="#333" stroke-width="1.3" vector-effect="non-scaling-stroke"/>
<polygon points="990,440 1030,410 1235,610 1205,790" fill="#fff" stroke="#333" stroke-width="1.3" vector-effect="non-scaling-stroke"/>
<line x1="800" y1="152" x2="870" y2="118" stroke="#333" stroke-width="1.2" vector-effect="non-scaling-stroke"/>
<line x1="850" y1="250" x2="925" y2="215" stroke="#333" stroke-width="1.2" vector-effect="non-scaling-stroke"/>
<line x1="845" y1="395" x2="915" y2="355" stroke="#333" stroke-width="1.2" vector-effect="non-scaling-stroke"/>
<line x1="1060" y1="520" x2="1100" y2="500" stroke="#333" stroke-width="1.2" vector-effect="non-scaling-stroke"/>
<line x1="1130" y1="640" x2="1170" y2="610" stroke="#333" stroke-width="1.2" vector-effect="non-scaling-stroke"/>
<path d="M853.5 73.7 l-19.0 11.9 M860.6 85.0 l-11.9 7.4 M867.6 96.4 l-11.9 7.4 M874.7 107.8 l-11.9 7.4 M881.7 119.1 l-11.9 7.4 M888.8 130.5 l-19.0 11.9 M895.8 141.9 l-11.9 7.4 M902.8 153.2 l-11.9 7.4 M909.9 164.6 l-11.9 7.4 M916.9 176.0 l-11.9 7.4 M924.0 187.3 l-19.0 11.9 M931.0 198.7 l-11.9 7.4 M938.1 210.0 l-11.9 7.4 M945.1 221.4 l-11.9 7.4 M952.2 232.8 l-11.9 7.4 M959.2 244.1 l-19.0 11.9 M966.2 255.5 l-11.9 7.4 M973.3 266.9 l-11.9 7.4 M980.3 278.2 l-11.9 7.4 M987.4 289.6 l-11.9 7.4 M994.4 301.0 l-19.0 11.9 M1001.5 312.3 l-11.9 7.4" stroke="#444" stroke-width="0.8" fill="none" vector-effect="non-scaling-stroke"/>
<path d="" stroke="#444" stroke-width="0.8" fill="none" vector-effect="non-scaling-stroke"/>
<path d="" stroke="#444" stroke-width="0.8" fill="none" vector-effect="non-scaling-stroke"/>
<path d="M1134.2 544.2 l-15.7 15.7 M1142.8 552.5 l-9.8 9.8 M1151.2 560.8 l-9.8 9.8 M1159.8 569.2 l-9.8 9.8 M1168.2 577.5 l-9.8 9.8 M1176.8 585.8 l-15.7 15.7 M1185.2 594.2 l-9.8 9.8 M1193.8 602.5 l-9.8 9.8 M1202.2 610.8 l-9.8 9.8 M1210.8 619.2 l-9.8 9.8 M1219.2 627.5 l-15.7 15.7 M1227.8 635.8 l-9.8 9.8" stroke="#444" stroke-width="0.8" fill="none" vector-effect="non-scaling-stroke"/>
<text x="805" y="112" font-family="Liberation Serif" font-weight="bold" font-size="58" fill="#222" transform="rotate(-30 805 112)">12</text>
<text x="850" y="220" font-family="Liberation Serif" font-weight="bold" font-size="58" fill="#222" transform="rotate(-30 850 220)">13</text>
<text x="900" y="318" font-family="Liberation Serif" font-weight="bold" font-size="58" fill="#222" transform="rotate(-30 900 318)">14</text>
<text x="842" y="350" font-family="Liberation Serif" font-weight="bold" font-size="58" fill="#222" transform="rotate(-30 842 350)">1</text>
<text x="899" y="452" font-family="Liberation Serif" font-weight="bold" font-size="58" fill="#222" transform="rotate(-30 899 452)">2</text>
<text x="1051" y="510" font-family="Liberation Serif" font-weight="bold" font-size="58" fill="#222" transform="rotate(-30 1051 510)">6</text>
<text x="1111" y="618" font-family="Liberation Serif" font-weight="bold" font-size="58" fill="#222" transform="rotate(-30 1111 618)">7</text>
<text x="1171" y="712" font-family="Liberation Serif" font-weight="bold" font-size="58" fill="#222" transform="rotate(-30 1171 712)">8</text>
</g>
<g transform="translate(1000,610) scale(0.187935)">
<path d="M22.00 428.00 C64.67 417.00 107.31 407.06 150.00 395.00 C193.31 382.76 237.89 370.21 280.00 355.00 C321.17 340.13 360.47 323.88 400.00 305.00 C440.50 285.66 479.83 260.92 520.00 240.00 C559.83 219.26 598.90 200.93 640.00 180.00 C683.75 157.72 730.00 133.33 775.00 110.00" fill="none" stroke="#111" stroke-width="2.2" stroke-linecap="round" stroke-linejoin="round" vector-effect="non-scaling-stroke"/>
<path d="M405.00 828.00 C436.67 808.67 467.89 789.44 500.00 770.00 C532.87 750.11 567.04 731.39 600.00 710.00 C633.72 688.12 667.06 664.67 700.00 640.00 C733.74 614.73 767.29 585.88 800.00 560.00 C831.24 535.28 861.33 512.00 892.00 488.00" fill="none" stroke="#111" stroke-width="2.2" stroke-linecap="round" stroke-linejoin="round" vector-effect="non-scaling-stroke"/>
</g>
<g transform="translate(1000,610) scale(0.187935)"><path d="M955 320 C1050 345 1150 390 1260 440 L1380 485 L1440 815 C1380 740 1300 650 1200 570 C1100 500 1000 430 920 370 C895 350 905 315 955 320 Z" fill="#fff"/></g>
<g transform="translate(1000,610) scale(0.187935)">
<path d="M1380.00 485.00 C1340.00 470.00 1298.86 456.10 1260.00 440.00 C1222.26 424.37 1185.81 406.19 1150.00 390.00 C1115.89 374.57 1083.44 356.46 1050.00 345.00 C1018.43 334.18 977.90 325.51 955.00 322.00 C942.30 320.05 933.35 316.63 925.00 320.00 C916.70 323.35 906.30 334.14 905.00 342.00 C903.81 349.22 909.47 359.07 915.00 365.00 C920.86 371.29 930.33 371.43 940.00 378.00 C956.23 389.03 976.93 412.00 1000.00 430.00 C1028.61 452.31 1066.67 476.67 1100.00 500.00 C1133.33 523.33 1167.06 545.33 1200.00 570.00 C1233.74 595.27 1269.63 621.16 1300.00 650.00 C1329.45 677.96 1355.59 711.06 1380.00 740.00 C1401.80 765.85 1420.00 790.00 1440.00 815.00" fill="none" stroke="#111" stroke-width="2.2" stroke-linecap="round" stroke-linejoin="round" vector-effect="non-scaling-stroke"/>
<path d="M915.00 330.00 C918.72 324.09 931.39 318.18 940.00 318.00 C949.03 317.81 965.26 323.67 968.00 330.00 C970.40 335.55 965.36 347.00 960.00 352.00 C954.02 357.57 939.91 361.34 932.00 360.00 C925.31 358.86 917.73 353.27 915.00 348.00 C912.46 343.10 912.00 334.76 915.00 330.00 Z" fill="none" stroke="#111" stroke-width="1.6" stroke-linecap="round" stroke-linejoin="round" vector-effect="non-scaling-stroke"/>
<path d="M1090.00 395.00 C1093.33 406.67 1094.09 419.95 1100.00 430.00 C1105.83 439.90 1116.67 446.67 1125.00 455.00" fill="none" stroke="#8a8a8a" stroke-width="1" stroke-linecap="round" stroke-linejoin="round" vector-effect="non-scaling-stroke"/>
</g>
<g transform="translate(1210,600) scale(0.187935)"><path d="M0 430 L265 538 L495 432 L380 400 L440 350 L640 405 L1000 740 L1435 862 L1000 1165 L300 1025 L100 850 L110 660 L0 570 Z" fill="#fff"/></g>
<g transform="translate(1210,600) scale(0.187935)">
<path d="M380.00 400.00 C386.67 387.33 389.54 370.34 400.00 362.00 C410.89 353.31 427.19 350.29 445.00 350.00 C470.78 349.57 508.13 363.07 540.00 372.00 C573.12 381.28 612.10 389.51 640.00 405.00 C664.03 418.34 679.34 434.99 700.00 455.00 C725.65 479.85 751.37 514.64 780.00 545.00 C811.03 577.91 844.16 613.08 880.00 645.00 C917.29 678.20 960.14 716.91 1000.00 740.00 C1033.43 759.37 1063.08 766.48 1100.00 780.00 C1144.73 796.39 1196.85 816.62 1250.00 830.00 C1307.92 844.57 1373.33 851.33 1435.00 862.00" fill="none" stroke="#111" stroke-width="2.2" stroke-linecap="round" stroke-linejoin="round" vector-effect="non-scaling-stroke"/>
<path d="M240.00 445.00 C256.67 434.00 271.71 418.67 290.00 412.00 C308.36 405.30 333.46 404.59 350.00 405.00 C361.74 405.29 366.78 407.63 380.00 410.00 C405.94 414.64 456.67 424.67 495.00 432.00" fill="none" stroke="#111" stroke-width="2.2" stroke-linecap="round" stroke-linejoin="round" vector-effect="non-scaling-stroke"/>
<path d="M135.00 478.00 C150.00 470.33 162.79 459.54 180.00 455.00 C200.27 449.66 224.44 450.02 250.00 452.00 C281.60 454.45 320.00 466.00 355.00 473.00" fill="none" stroke="#111" stroke-width="2.2" stroke-linecap="round" stroke-linejoin="round" vector-effect="non-scaling-stroke"/>
<path d="M0.00 430.00 C33.33 444.00 68.67 457.99 100.00 472.00 C128.31 484.66 152.58 499.02 180.00 510.00 C207.57 521.04 236.67 528.67 265.00 538.00" fill="none" stroke="#111" stroke-width="2.2" stroke-linecap="round" stroke-linejoin="round" vector-effect="non-scaling-stroke"/>
<path d="M0.00 570.00 C33.33 593.33 66.67 616.67 100.00 640.00 C133.33 663.33 169.54 684.44 200.00 710.00 C229.33 734.61 258.60 761.79 280.00 790.00 C299.27 815.41 310.00 843.33 325.00 870.00" fill="none" stroke="#111" stroke-width="2.2" stroke-linecap="round" stroke-linejoin="round" vector-effect="non-scaling-stroke"/>
<path d="M110.00 660.00 C105.00 686.67 97.03 711.09 95.00 740.00 C92.64 773.63 89.36 821.74 100.00 850.00 C108.11 871.55 122.41 881.27 140.00 900.00 C166.79 928.54 219.21 978.91 250.00 1000.00 C268.88 1012.94 278.18 1017.91 300.00 1025.00 C335.99 1036.70 393.46 1043.61 450.00 1050.00 C522.56 1058.20 627.89 1052.20 700.00 1065.00 C757.02 1075.12 800.25 1093.43 850.00 1110.00 C900.25 1126.73 950.00 1146.67 1000.00 1165.00" fill="none" stroke="#111" stroke-width="2.2" stroke-linecap="round" stroke-linejoin="round" vector-effect="non-scaling-stroke"/>
<path d="M110.00 660.00 C140.00 680.00 183.46 697.64 200.00 720.00 C211.49 735.53 204.04 752.76 215.00 770.00 C232.12 796.94 278.33 826.67 310.00 855.00" fill="none" stroke="#111" stroke-width="1.8" stroke-linecap="round" stroke-linejoin="round" vector-effect="non-scaling-stroke"/>
<path d="M520.0 430.0 L570.0 475.0" fill="none" stroke="#8a8a8a" stroke-width="1" stroke-linecap="round" stroke-linejoin="round" vector-effect="non-scaling-stroke"/>
<path d="M410.0 470.0 L470.0 500.0" fill="none" stroke="#8a8a8a" stroke-width="1" stroke-linecap="round" stroke-linejoin="round" vector-effect="non-scaling-stroke"/>
<path d="M300.0 690.0 L330.0 630.0" fill="none" stroke="#8a8a8a" stroke-width="1" stroke-linecap="round" stroke-linejoin="round" vector-effect="non-scaling-stroke"/>
<path d="M835.00 990.00 C856.67 960.00 884.93 931.89 900.00 900.00 C914.17 870.00 916.67 836.67 925.00 805.00" fill="none" stroke="#8a8a8a" stroke-width="1" stroke-linecap="round" stroke-linejoin="round" vector-effect="non-scaling-stroke"/>
<path d="M150.0 775.0 L210.0 770.0" fill="none" stroke="#8a8a8a" stroke-width="1" stroke-linecap="round" stroke-linejoin="round" vector-effect="non-scaling-stroke"/>
</g>
<g transform="translate(975,1080) scale(0.345662)">
</g>
<g transform="translate(0,0) scale(1.000000)">
<path d="M1095.70 1178.30 C1105.10 1183.47 1115.28 1188.57 1123.90 1193.80 C1131.55 1198.45 1138.02 1202.55 1145.00 1207.90 C1152.60 1213.73 1160.07 1221.10 1167.60 1227.70" fill="none" stroke="#111" stroke-width="1.9" stroke-linecap="round" stroke-linejoin="round" vector-effect="non-scaling-stroke"/>
<path d="M1006.20 1203.70 C1019.60 1211.70 1032.93 1219.21 1046.40 1227.70 C1060.43 1236.54 1075.04 1247.05 1088.70 1255.80 C1101.27 1263.85 1113.10 1270.87 1125.30 1278.40" fill="none" stroke="#111" stroke-width="1.9" stroke-linecap="round" stroke-linejoin="round" vector-effect="non-scaling-stroke"/>
</g>
<g transform="translate(1160,1140) scale(0.221484)">
<path d="M410.00 40.00 C456.67 53.33 507.29 67.49 550.00 80.00 C586.17 90.59 616.40 102.48 650.00 110.00 C683.07 117.40 713.24 124.10 750.00 125.00 C794.89 126.10 846.55 117.34 900.00 110.00 C962.03 101.48 1030.57 86.24 1100.00 75.00 C1175.10 62.84 1256.67 51.67 1335.00 40.00" fill="none" stroke="#111" stroke-width="2.2" stroke-linecap="round" stroke-linejoin="round" vector-effect="non-scaling-stroke"/>
<path d="M705.00 382.00 C736.67 384.67 764.89 385.03 800.00 390.00 C844.47 396.30 900.09 409.19 950.00 420.00 C1000.09 430.85 1049.81 445.31 1100.00 455.00 C1149.82 464.62 1197.93 472.68 1250.00 478.00 C1305.95 483.71 1366.67 484.00 1425.00 487.00" fill="none" stroke="#111" stroke-width="2.2" stroke-linecap="round" stroke-linejoin="round" vector-effect="non-scaling-stroke"/>
</g>
<g transform="translate(1170,1150) scale(0.100675)">
<path d="M560.00 22.00 C440.00 61.33 244.93 103.36 200.00 140.00 C185.35 151.95 185.98 157.68 180.00 175.00 C166.45 214.27 162.13 314.10 150.00 380.00 C138.56 442.17 120.24 507.93 110.00 560.00 C102.21 599.58 98.00 630.00 92.00 665.00" fill="none" stroke="#111" stroke-width="2.4" stroke-linecap="round" stroke-linejoin="round" vector-effect="non-scaling-stroke"/>
<path d="M245.00 170.00 C270.00 190.00 302.49 204.89 320.00 230.00 C337.40 254.95 340.00 290.00 350.00 320.00" fill="none" stroke="#8a8a8a" stroke-width="1" stroke-linecap="round" stroke-linejoin="round" vector-effect="non-scaling-stroke"/>
<path d="M210.0 360.0 L280.0 420.0" fill="none" stroke="#8a8a8a" stroke-width="1" stroke-linecap="round" stroke-linejoin="round" vector-effect="non-scaling-stroke"/>
</g>
<g transform="translate(1090,1080) scale(0.173280)"><polygon points="1000,78 1095,128 600,890 515,860" fill="#fff" stroke="#111" stroke-width="2.6" vector-effect="non-scaling-stroke" stroke-linejoin="round"/></g>
<g transform="translate(1170,1150) scale(0.100675)"><path d="M300 540 L250 600 L260 700 L280 800 L340 900 L420 880 L420 720 L400 660 L385 600 L350 550 Z" fill="#fff"/></g>
<g transform="translate(1170,1150) scale(0.100675)">
<path d="M700.00 125.00 C706.67 150.00 715.12 171.33 720.00 200.00 C726.33 237.16 748.49 298.51 730.00 330.00 C710.63 363.00 641.02 374.47 600.00 390.00 C564.98 403.26 534.25 406.42 500.00 420.00 C461.18 435.40 415.11 458.30 380.00 480.00 C349.69 498.73 326.67 520.00 300.00 540.00" fill="none" stroke="#111" stroke-width="2.4" stroke-linecap="round" stroke-linejoin="round" vector-effect="non-scaling-stroke"/>
<path d="M300.00 545.00 C282.38 552.30 261.31 579.10 255.00 600.00 C248.73 620.79 251.18 651.67 262.00 670.00 C272.83 688.34 299.53 705.44 320.00 710.00 C339.02 714.24 366.58 709.91 380.00 700.00 C391.51 691.50 398.35 675.02 400.00 660.00 C401.94 642.33 393.38 618.38 385.00 600.00 C376.67 581.74 365.18 558.89 350.00 550.00 C336.23 541.93 314.82 538.86 300.00 545.00 Z" fill="none" stroke="#111" stroke-width="2.4" stroke-linecap="round" stroke-linejoin="round" vector-effect="non-scaling-stroke"/>
<path d="M400.00 690.00 C433.33 683.33 461.01 678.29 500.00 670.00 C555.29 658.25 637.83 635.06 700.00 625.00 C753.31 616.37 820.35 599.42 850.00 610.00 C865.73 615.61 865.17 630.84 880.00 640.00 C905.60 655.82 948.69 672.05 1000.00 680.00 C1085.36 693.23 1233.33 676.67 1350.00 675.00" fill="none" stroke="#111" stroke-width="2.4" stroke-linecap="round" stroke-linejoin="round" vector-effect="non-scaling-stroke"/>
<path d="M880.00 740.00 C920.00 756.67 953.93 778.37 1000.00 790.00 C1057.28 804.46 1133.33 810.00 1200.00 810.00 C1266.67 810.00 1354.87 810.20 1400.00 790.00 C1428.72 777.15 1442.20 741.93 1460.00 735.00 C1470.81 730.80 1480.00 735.00 1490.00 735.00" fill="none" stroke="#111" stroke-width="2.4" stroke-linecap="round" stroke-linejoin="round" vector-effect="non-scaling-stroke"/>
<path d="M300.00 730.00 C283.35 743.91 276.75 775.34 280.00 800.00 C284.11 831.21 315.88 891.08 340.00 900.00 C357.76 906.57 386.61 894.46 400.00 880.00 C415.29 863.49 420.00 826.67 420.00 800.00 C420.00 773.33 417.85 732.56 400.00 720.00 C380.30 706.14 319.56 713.66 300.00 730.00 Z" fill="none" stroke="#111" stroke-width="2.4" stroke-linecap="round" stroke-linejoin="round" vector-effect="non-scaling-stroke"/>
<path d="M420.00 880.00 C446.67 896.67 470.69 918.36 500.00 930.00 C530.47 942.10 567.44 944.94 600.00 950.00 C630.68 954.76 674.25 971.91 690.00 960.00 C702.91 950.24 702.94 919.53 700.00 900.00 C696.92 879.49 684.32 854.32 670.00 840.00 C656.93 826.93 636.67 823.33 620.00 815.00" fill="none" stroke="#111" stroke-width="2.4" stroke-linecap="round" stroke-linejoin="round" vector-effect="non-scaling-stroke"/>
<path d="M505.00 700.00 C506.67 720.00 499.48 742.17 510.00 760.00 C524.10 783.90 568.62 818.05 600.00 820.00 C631.91 821.99 672.62 785.03 700.00 770.00 C719.77 759.15 728.38 745.99 750.00 740.00 C782.29 731.06 836.67 740.00 880.00 740.00" fill="none" stroke="#111" stroke-width="2.4" stroke-linecap="round" stroke-linejoin="round" vector-effect="non-scaling-stroke"/>
<path d="M600.0 820.0 L595.0 940.0" fill="none" stroke="#111" stroke-width="2" stroke-linecap="round" stroke-linejoin="round" vector-effect="non-scaling-stroke"/>
<path d="M690.0 650.0 L740.0 740.0" fill="none" stroke="#8a8a8a" stroke-width="1" stroke-linecap="round" stroke-linejoin="round" vector-effect="non-scaling-stroke"/>
<path d="M870.0 640.0 L885.0 730.0" fill="none" stroke="#8a8a8a" stroke-width="1" stroke-linecap="round" stroke-linejoin="round" vector-effect="non-scaling-stroke"/>
<path d="M560.0 715.0 L640.0 800.0" fill="none" stroke="#8a8a8a" stroke-width="1" stroke-linecap="round" stroke-linejoin="round" vector-effect="non-scaling-stroke"/>
<path d="M420.0 720.0 L510.0 735.0" fill="none" stroke="#8a8a8a" stroke-width="1" stroke-linecap="round" stroke-linejoin="round" vector-effect="non-scaling-stroke"/>
</g>
<g transform="translate(1100,1200) scale(0.093310)"><path d="M182 1420 C210 1300 260 1170 330 1040 L400 945 L830 400 L1000 410 L900 580 L760 780 L600 990 C490 1130 420 1270 370 1438 Z" fill="#fff"/></g>
<g transform="translate(1100,1200) scale(0.093310)">
<path d="M265 850 L735 300 L822 322" fill="none" stroke="#111" stroke-width="2.4" stroke-linecap="round" stroke-linejoin="round" vector-effect="non-scaling-stroke"/>
<path d="M262 855 L400 945" fill="none" stroke="#111" stroke-width="2.4" stroke-linecap="round" stroke-linejoin="round" vector-effect="non-scaling-stroke"/>
<path d="M182.00 1420.00 C191.33 1380.00 197.59 1340.37 210.00 1300.00 C223.19 1257.08 240.38 1212.72 260.00 1170.00 C280.20 1126.02 305.21 1079.16 330.00 1040.00 C352.17 1004.99 372.98 979.59 400.00 945.00 C434.12 901.32 479.31 849.62 520.00 800.00 C562.58 748.07 608.23 690.37 650.00 640.00 C687.96 594.22 728.67 552.57 760.00 510.00 C787.42 472.75 806.67 436.67 830.00 400.00" fill="none" stroke="#111" stroke-width="2.6" stroke-linecap="round" stroke-linejoin="round" vector-effect="non-scaling-stroke"/>
<path d="M182 1420 L370 1438" fill="none" stroke="#111" stroke-width="2.6" stroke-linecap="round" stroke-linejoin="round" vector-effect="non-scaling-stroke"/>
<path d="M370.00 1438.00 C386.67 1382.00 399.21 1322.60 420.00 1270.00 C439.65 1220.30 461.32 1175.26 490.00 1130.00 C520.59 1081.73 560.12 1041.54 600.00 990.00 C648.57 927.23 709.12 849.66 760.00 780.00 C808.93 713.02 858.38 644.76 900.00 580.00 C937.41 521.79 966.67 466.67 1000.00 410.00" fill="none" stroke="#111" stroke-width="2.6" stroke-linecap="round" stroke-linejoin="round" vector-effect="non-scaling-stroke"/>
<path d="M825 320 L995 400" fill="none" stroke="#222" stroke-width="4.5" stroke-linecap="round" stroke-linejoin="round" vector-effect="non-scaling-stroke"/>
<path d="M585 555 L715 650" fill="none" stroke="#222" stroke-width="3.5" stroke-linecap="round" stroke-linejoin="round" vector-effect="non-scaling-stroke"/>
<path d="M700.00 620.00 C720.00 586.67 737.56 523.80 760.00 520.00 C778.37 516.89 800.78 573.76 820.00 570.00 C848.36 564.46 873.33 470.00 900.00 420.00" fill="none" stroke="#111" stroke-width="1.6" stroke-linecap="round" stroke-linejoin="round" vector-effect="non-scaling-stroke"/>
<path d="M560.00 1040.00 C606.67 1063.33 654.48 1091.14 700.00 1110.00 C740.92 1126.95 782.40 1124.87 820.00 1150.00 C867.10 1181.48 908.16 1245.76 950.00 1300.00 C995.06 1358.41 1036.67 1426.67 1080.00 1490.00" fill="none" stroke="#111" stroke-width="1.8" stroke-linecap="round" stroke-linejoin="round" vector-effect="non-scaling-stroke"/>
</g>
<g transform="translate(1100,1260) scale(0.201329)">
<path d="M265.00 190.00 C286.67 198.33 308.17 205.37 330.00 215.00 C353.15 225.21 380.30 233.16 400.00 250.00 C420.66 267.65 433.70 295.63 450.00 320.00 C467.07 345.53 481.06 376.20 500.00 400.00 C517.96 422.58 540.00 440.00 560.00 460.00 C580.00 480.00 597.42 502.04 620.00 520.00 C643.80 538.94 670.89 556.82 700.00 570.00 C730.63 583.86 768.26 593.30 800.00 600.00 C827.89 605.88 853.33 606.67 880.00 610.00" fill="none" stroke="#111" stroke-width="2" stroke-linecap="round" stroke-linejoin="round" vector-effect="non-scaling-stroke"/>
<path d="M685.0 325.0 L920.0 305.0" fill="none" stroke="#8a8a8a" stroke-width="1" stroke-linecap="round" stroke-linejoin="round" vector-effect="non-scaling-stroke"/>
<path d="M630.00 470.00 C653.33 450.00 669.59 425.71 700.00 410.00 C740.67 388.99 806.67 383.33 860.00 370.00" fill="none" stroke="#8a8a8a" stroke-width="1" stroke-linecap="round" stroke-linejoin="round" vector-effect="non-scaling-stroke"/>
<path d="M720.0 540.0 L820.0 505.0" fill="none" stroke="#8a8a8a" stroke-width="1" stroke-linecap="round" stroke-linejoin="round" vector-effect="non-scaling-stroke"/>
<path d="M610.00 20.00 C620.00 53.33 622.35 90.45 640.00 120.00 C658.38 150.76 688.07 176.25 720.00 200.00 C756.47 227.14 805.23 256.87 850.00 270.00 C892.07 282.34 936.67 276.67 980.00 280.00" fill="none" stroke="#8a8a8a" stroke-width="1" stroke-linecap="round" stroke-linejoin="round" vector-effect="non-scaling-stroke"/>
</g>
<g transform="translate(1100,1140) scale(0.201329)">
<path d="M460.00 510.00 C480.00 516.67 498.64 522.44 520.00 530.00 C544.83 538.79 571.40 553.03 600.00 560.00 C631.05 567.57 666.74 567.02 700.00 572.00 C733.41 577.01 767.01 581.32 800.00 590.00 C833.69 598.87 867.26 610.39 900.00 625.00 C933.98 640.16 967.57 658.34 1000.00 680.00 C1034.35 702.94 1067.07 732.05 1100.00 760.00 C1133.75 788.65 1171.21 822.68 1200.00 850.00 C1222.86 871.69 1246.27 890.95 1260.00 910.00 C1269.97 923.83 1281.21 938.55 1280.00 950.00 C1278.97 959.68 1270.02 970.18 1260.00 975.00 C1246.28 981.59 1222.18 978.77 1200.00 975.00 C1170.52 969.99 1125.84 957.92 1100.00 940.00 C1077.81 924.61 1067.10 898.73 1050.00 880.00 C1033.73 862.18 1015.44 844.30 1000.00 830.00 C987.53 818.46 976.67 810.00 965.00 800.00" fill="none" stroke="#111" stroke-width="2" stroke-linecap="round" stroke-linejoin="round" vector-effect="non-scaling-stroke"/>
</g>
<g transform="translate(1260,1320) scale(0.087260)">
<path d="M0.00 470.00 C13.33 471.67 25.30 473.47 40.00 475.00 C57.96 476.87 81.89 485.52 100.00 480.00 C118.68 474.31 139.67 458.77 150.00 440.00 C162.29 417.68 153.70 383.55 160.00 350.00 C168.25 306.08 178.78 236.81 200.00 200.00 C215.69 172.79 237.97 148.07 260.00 140.00 C278.56 133.20 304.31 135.52 320.00 145.00 C336.33 154.87 346.74 177.91 355.00 200.00 C365.29 227.51 366.06 262.17 370.00 300.00 C375.12 349.09 376.67 413.33 380.00 470.00" fill="none" stroke="#111" stroke-width="2.2" stroke-linecap="round" stroke-linejoin="round" vector-effect="non-scaling-stroke"/>
<path d="M380.00 470.00 C353.33 513.33 324.18 556.86 300.00 600.00 C277.10 640.84 258.67 681.33 238.00 722.00" fill="none" stroke="#111" stroke-width="2" stroke-linecap="round" stroke-linejoin="round" vector-effect="non-scaling-stroke"/>
<path d="M270.00 190.00 C268.33 226.67 255.25 274.87 265.00 300.00 C271.54 316.85 286.36 331.03 300.00 335.00 C313.16 338.83 335.68 336.01 345.00 325.00 C358.39 309.18 353.76 257.73 350.00 230.00 C346.94 207.39 336.67 190.00 330.00 170.00" fill="none" stroke="#111" stroke-width="2" stroke-linecap="round" stroke-linejoin="round" vector-effect="non-scaling-stroke"/>
<path d="M0.00 710.00 C33.33 716.67 64.30 727.16 100.00 730.00 C140.32 733.21 194.53 715.32 230.00 725.00 C258.37 732.74 272.70 756.30 300.00 770.00 C333.88 787.00 383.64 811.84 420.00 815.00 C448.98 817.52 473.08 811.32 500.00 800.00 C532.96 786.14 566.67 753.33 600.00 730.00 C633.33 706.67 673.18 688.78 700.00 660.00 C726.22 631.87 746.62 593.55 760.00 560.00 C771.90 530.17 775.11 503.50 780.00 470.00 C786.04 428.66 795.37 364.46 790.00 330.00 C786.67 308.65 781.47 292.46 770.00 280.00 C758.32 267.30 738.52 257.35 720.00 255.00 C699.04 252.34 670.04 259.10 650.00 270.00 C630.08 280.84 611.62 299.47 600.00 320.00 C587.45 342.17 589.67 373.85 580.00 400.00 C569.93 427.23 560.00 460.00 540.00 480.00 C520.00 500.00 486.67 520.00 460.00 520.00 C433.33 520.00 406.67 493.33 380.00 480.00" fill="none" stroke="#111" stroke-width="2.2" stroke-linecap="round" stroke-linejoin="round" vector-effect="non-scaling-stroke"/>
<path d="M690.00 340.00 C686.67 366.67 674.79 397.93 680.00 420.00 C684.27 438.08 696.29 456.76 710.00 465.00 C723.22 472.95 748.94 478.29 760.00 470.00 C774.08 459.45 773.35 416.77 775.00 390.00 C776.63 363.43 771.67 336.67 770.00 310.00" fill="none" stroke="#111" stroke-width="2" stroke-linecap="round" stroke-linejoin="round" vector-effect="non-scaling-stroke"/>
<path d="M790.00 520.00 C826.67 521.67 864.69 530.18 900.00 525.00 C934.64 519.92 968.74 502.29 1000.00 490.00 C1028.38 478.84 1052.72 460.71 1080.00 455.00 C1106.11 449.54 1135.43 448.81 1160.00 455.00 C1183.60 460.95 1212.98 473.75 1225.00 490.00 C1234.99 503.50 1238.97 525.12 1235.00 540.00 C1230.95 555.19 1215.77 565.85 1200.00 580.00 C1176.10 601.45 1127.81 624.79 1100.00 650.00 C1075.83 671.91 1060.00 696.67 1040.00 720.00" fill="none" stroke="#111" stroke-width="2.2" stroke-linecap="round" stroke-linejoin="round" vector-effect="non-scaling-stroke"/>
<path d="M610.00 730.00 C640.00 741.67 665.50 759.12 700.00 765.00 C743.01 772.33 800.10 764.15 850.00 760.00 C900.10 755.84 958.12 749.26 1000.00 740.00 C1031.17 733.11 1053.33 723.33 1080.00 715.00" fill="none" stroke="#111" stroke-width="2.2" stroke-linecap="round" stroke-linejoin="round" vector-effect="non-scaling-stroke"/>
<path d="M1070.00 620.00 C1080.00 606.67 1086.69 587.51 1100.00 580.00 C1113.34 572.48 1134.48 572.98 1150.00 575.00 C1164.31 576.86 1176.67 585.00 1190.00 590.00" fill="none" stroke="#111" stroke-width="2" stroke-linecap="round" stroke-linejoin="round" vector-effect="non-scaling-stroke"/>
<path d="M1230.00 545.00 C1253.33 556.67 1278.69 564.64 1300.00 580.00 C1322.19 595.99 1348.70 618.04 1360.00 640.00 C1369.57 658.59 1376.13 684.70 1370.00 700.00 C1364.44 713.87 1348.52 723.83 1330.00 730.00 C1300.14 739.95 1242.39 732.64 1200.00 730.00 C1159.12 727.45 1120.00 720.00 1080.00 715.00" fill="none" stroke="#111" stroke-width="2.2" stroke-linecap="round" stroke-linejoin="round" vector-effect="non-scaling-stroke"/>
<path d="M530.00 0.00 C553.33 33.33 573.79 65.72 600.00 100.00 C629.65 138.78 665.80 182.55 700.00 220.00 C732.55 255.64 765.80 289.39 800.00 320.00 C832.55 349.13 862.95 377.10 900.00 400.00 C939.18 424.21 986.67 440.00 1030.00 460.00" fill="none" stroke="#111" stroke-width="2.2" stroke-linecap="round" stroke-linejoin="round" vector-effect="non-scaling-stroke"/>
<path d="M50.0 640.0 L70.0 530.0" fill="none" stroke="#8a8a8a" stroke-width="1" stroke-linecap="round" stroke-linejoin="round" vector-effect="non-scaling-stroke"/>
<path d="M360.0 700.0 L400.0 580.0" fill="none" stroke="#8a8a8a" stroke-width="1" stroke-linecap="round" stroke-linejoin="round" vector-effect="non-scaling-stroke"/>
<path d="M890.0 650.0 L905.0 550.0" fill="none" stroke="#8a8a8a" stroke-width="1" stroke-linecap="round" stroke-linejoin="round" vector-effect="non-scaling-stroke"/>
<path d="M400.0 470.0 L480.0 380.0" fill="none" stroke="#8a8a8a" stroke-width="1" stroke-linecap="round" stroke-linejoin="round" vector-effect="non-scaling-stroke"/>
<path d="M550.0 330.0 L660.0 220.0" fill="none" stroke="#8a8a8a" stroke-width="1" stroke-linecap="round" stroke-linejoin="round" vector-effect="non-scaling-stroke"/>
<path d="M800.0 470.0 L880.0 400.0" fill="none" stroke="#8a8a8a" stroke-width="1" stroke-linecap="round" stroke-linejoin="round" vector-effect="non-scaling-stroke"/>
</g>
</svg>
</body></html>
